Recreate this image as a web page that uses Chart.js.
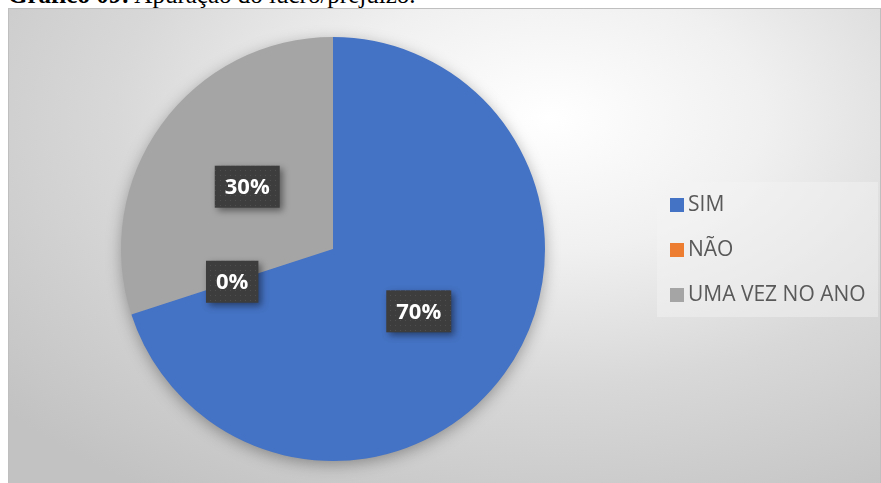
<!DOCTYPE html>
<html>
<head>
<meta charset="utf-8">
<script src="https://cdn.jsdelivr.net/npm/chart.js@4.4.1/dist/chart.umd.min.js"></script>
<style>
  html, body { margin: 0; padding: 0; background: #fff; overflow: hidden; }
  body { width: 881px; height: 483px; position: relative; }
  #titulo {
    position: absolute; left: 8px; top: -18px;
    font-family: "Liberation Serif", serif; font-size: 25px; line-height: 25px;
    color: #000; white-space: nowrap;
  }
  #box { position: absolute; left: 8px; top: 8px; width: 873px; height: 475px; }
</style>
</head>
<body>
<div id="titulo"><b>Gráfico 09:</b> Apuração do lucro/prejuízo.</div>
<div id="box"><canvas id="grafico" width="873" height="475"></canvas></div>
<script>
// dados do gráfico
var categorias = ['SIM', 'NÃO', 'UMA VEZ NO ANO'];
var valores = [70, 0, 30];
var cores = ['#4472C4', '#ED7D31', '#A5A5A5'];

var canvas = document.getElementById('grafico');

// padrão pontilhado das caixas de rótulo
function criarPadrao(ctx) {
    var p = document.createElement('canvas');
    p.width = 5; p.height = 5;
    var c = p.getContext('2d');
    c.fillStyle = '#3d3d3d';
    c.fillRect(0, 0, 5, 5);
    c.fillStyle = '#4f4f4f';
    c.fillRect(2, 2, 1, 1);
    return ctx.createPattern(p, 'repeat');
}

var fundo = {
    id: 'fundo',
    beforeDraw: function (chart) {
        var ctx = chart.ctx, w = chart.width, h = chart.height;
        ctx.save();
        ctx.translate(540, 110);
        ctx.scale(1, 0.62);
        var g = ctx.createRadialGradient(0, 0, 0, 0, 0, 720);
        g.addColorStop(0, '#ffffff');
        g.addColorStop(0.3, '#f0f0f0');
        g.addColorStop(0.6, '#d8d8d8');
        g.addColorStop(1, '#c2c2c2');
        ctx.fillStyle = g;
        ctx.fillRect(-540, -110 / 0.62, w, h / 0.62);
        ctx.restore();
        ctx.strokeStyle = '#bfbfbf';
        ctx.lineWidth = 1;
        ctx.strokeRect(0.5, 0.5, w - 1, h);

        // sombra da pizza
        var arc = chart.getDatasetMeta(0).data[0];
        if (arc) {
            ctx.save();
            ctx.shadowColor = 'rgba(0,0,0,0.35)';
            ctx.shadowBlur = 16;
            ctx.shadowOffsetY = 4;
            ctx.fillStyle = '#4472C4';
            ctx.beginPath();
            ctx.arc(arc.x, arc.y, arc.outerRadius - 1, 0, Math.PI * 2);
            ctx.fill();
            ctx.restore();
        }
    }
};

var rotulos = {
    id: 'rotulos',
    afterDatasetsDraw: function (chart) {
        var ctx = chart.ctx;
        var padrao = criarPadrao(ctx);
        var total = valores.reduce(function (a, b) { return a + b; }, 0);
        chart.getDatasetMeta(0).data.forEach(function (arc, i) {
            var pos = arc.tooltipPosition();
            var txt = Math.round(valores[i] / total * 100) + '%';
            ctx.save();
            ctx.font = 'bold 22px "Open Sans"';
            var tw = ctx.measureText(txt).width;
            var bw = tw + 20, bh = 42;
            ctx.shadowColor = 'rgba(0,0,0,0.45)';
            ctx.shadowBlur = 7;
            ctx.shadowOffsetX = 3;
            ctx.shadowOffsetY = 3;
            ctx.fillStyle = padrao;
            ctx.fillRect(pos.x - bw / 2, pos.y - bh / 2, bw, bh);
            ctx.shadowColor = 'transparent';
            ctx.fillStyle = '#ffffff';
            ctx.textAlign = 'center';
            ctx.textBaseline = 'middle';
            ctx.fillText(txt, pos.x, pos.y + 1);
            ctx.restore();
        });
    }
};

var legenda = {
    id: 'legenda',
    afterDraw: function (chart) {
        var ctx = chart.ctx;
        ctx.save();
        ctx.fillStyle = 'rgba(245,245,245,0.45)';
        ctx.fillRect(649, 174, 221, 135);
        ctx.font = '21px "Open Sans"';
        ctx.textBaseline = 'middle';
        categorias.forEach(function (nome, i) {
            var y = 197 + i * 45;
            ctx.fillStyle = cores[i];
            ctx.fillRect(662, y - 7, 14, 14);
            ctx.fillStyle = '#595959';
            ctx.fillText(nome, 680, y);
        });
        ctx.restore();
    }
};

var config = {
    type: 'pie',
    data: {
        labels: categorias,
        datasets: [{
            data: valores,
            backgroundColor: cores,
            borderWidth: 0
        }]
    },
    options: {
        responsive: false,
        animation: false,
        layout: {
            padding: { left: 113, right: 336, top: 29, bottom: 22 }
        },
        plugins: {
            legend: { display: false },
            tooltip: { enabled: false }
        }
    },
    plugins: [fundo, rotulos, legenda]
};

var meuGrafico = new Chart(canvas, config);
</script>
</body>
</html>
